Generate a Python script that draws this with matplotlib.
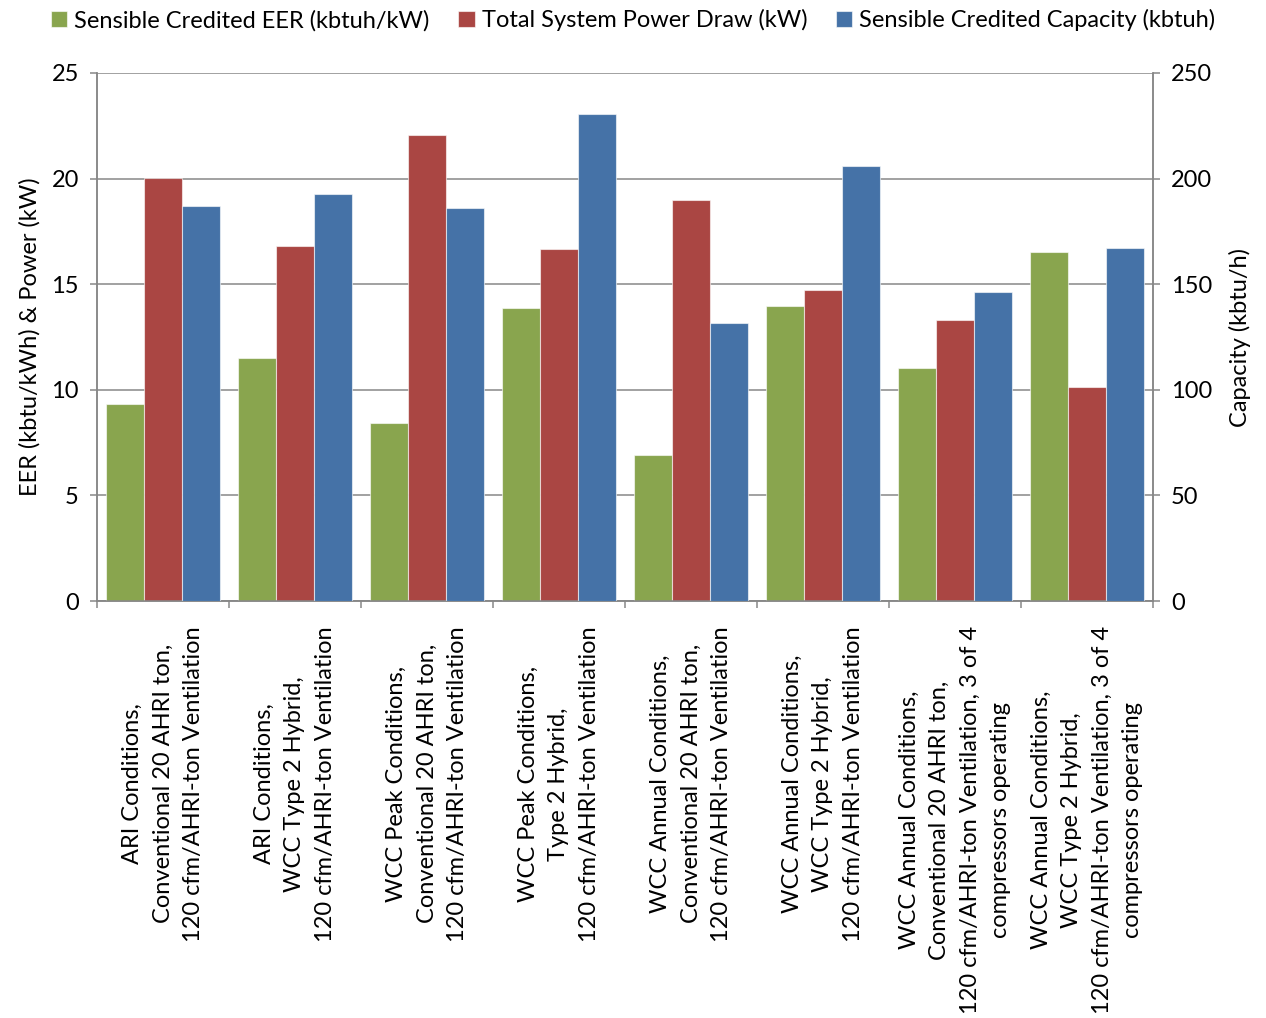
import matplotlib
matplotlib.use("Agg")
import matplotlib.pyplot as plt
from matplotlib.ticker import MultipleLocator, FixedLocator
import numpy as np

plt.rcParams['font.family'] = ['Lato', 'DejaVu Sans']

categories = [
    "ARI Conditions,\nConventional 20 AHRI ton,\n120 cfm/AHRI-ton Ventilation",
    "ARI Conditions,\nWCC Type 2 Hybrid,\n120 cfm/AHRI-ton Ventilation",
    "WCC Peak Conditions,\nConventional 20 AHRI ton,\n120 cfm/AHRI-ton Ventilation",
    "WCC Peak Conditions,\nType 2 Hybrid,\n120 cfm/AHRI-ton Ventilation",
    "WCC Annual Conditions,\nConventional 20 AHRI ton,\n120 cfm/AHRI-ton Ventilation",
    "WCC Annual Conditions,\nWCC Type 2 Hybrid,\n120 cfm/AHRI-ton Ventilation",
    "WCC Annual Conditions,\nConventional 20 AHRI ton,\n120 cfm/AHRI-ton Ventilation, 3 of 4\ncompressors operating",
    "WCC Annual Conditions,\nWCC Type 2 Hybrid,\n120 cfm/AHRI-ton Ventilation, 3 of 4\ncompressors operating",
]
eer = [9.33, 11.49, 8.43, 13.86, 6.91, 13.97, 11.02, 16.51]
power = [20.03, 16.81, 22.05, 16.65, 19.00, 14.74, 13.30, 10.12]
capacity = [186.9, 192.9, 185.9, 230.7, 131.6, 205.8, 146.3, 167.0]

series_names = [
    "Sensible Credited EER (kbtuh/kW)",
    "Total System Power Draw (kW)",
    "Sensible Credited Capacity (kbtuh)",
]
colors = ["#89A54E", "#AA4643", "#4572A7"]
grid_color = "#878787"
fs = 17

fig = plt.figure(figsize=(12.66, 10.18), dpi=100)
ax = fig.add_axes([0.0766, 0.4096, 0.8341, 0.5187])
ax2 = ax.twinx()

x = np.arange(len(categories))
w = 1 / 3.5
edge = dict(edgecolor=(1, 1, 1, 0.6), linewidth=0.8)
b1 = ax.bar(x - w, eer, w, color=colors[0], label=series_names[0], zorder=3, **edge)
b2 = ax.bar(x, power, w, color=colors[1], label=series_names[1], zorder=3, **edge)
b3 = ax2.bar(x + w, capacity, w, color=colors[2], label=series_names[2], zorder=3, **edge)

ax.set_xlim(-0.5, len(categories) - 0.5)
ax.set_ylim(0, 25)
ax2.set_ylim(0, 250)
ax.yaxis.set_major_locator(MultipleLocator(5))
ax2.yaxis.set_major_locator(MultipleLocator(50))

ax.grid(axis='y', color=grid_color, linewidth=1.1, zorder=0)
ax.set_axisbelow(True)

for a in (ax, ax2):
    a.spines['top'].set_visible(False)
    for side in ('left', 'right', 'bottom'):
        a.spines[side].set_color(grid_color)
        a.spines[side].set_linewidth(1.1)

ax.tick_params(axis='y', direction='out', length=5, width=1.1, color=grid_color,
               labelsize=fs, pad=8)
ax2.tick_params(axis='y', direction='out', length=5, width=1.1, color=grid_color,
                labelsize=fs, pad=8)

ax.set_xticks(x)
ax.set_xticklabels(categories, rotation=90, ha='center', va='top',
                   multialignment='center', fontsize=fs, linespacing=1.55)
ax.tick_params(axis='x', which='major', length=0, pad=18)
ax.xaxis.set_minor_locator(FixedLocator(np.arange(-0.5, len(categories), 1.0)))
ax.tick_params(axis='x', which='minor', direction='out', length=5, width=1.1,
               color=grid_color)

ax.set_ylabel("EER (kbtu/kWh) & Power (kW)", fontsize=fs, labelpad=8)
ax2.set_ylabel("Capacity (kbtu/h)", fontsize=fs, rotation=90, labelpad=12)

fig.legend(handles=[b1, b2, b3], loc='upper center', bbox_to_anchor=(0.5, 1.012),
           ncol=3, frameon=False, fontsize=fs, handlelength=0.7, handleheight=0.7,
           handletextpad=0.3, columnspacing=1.2)

fig.savefig("out.png", dpi=100)
